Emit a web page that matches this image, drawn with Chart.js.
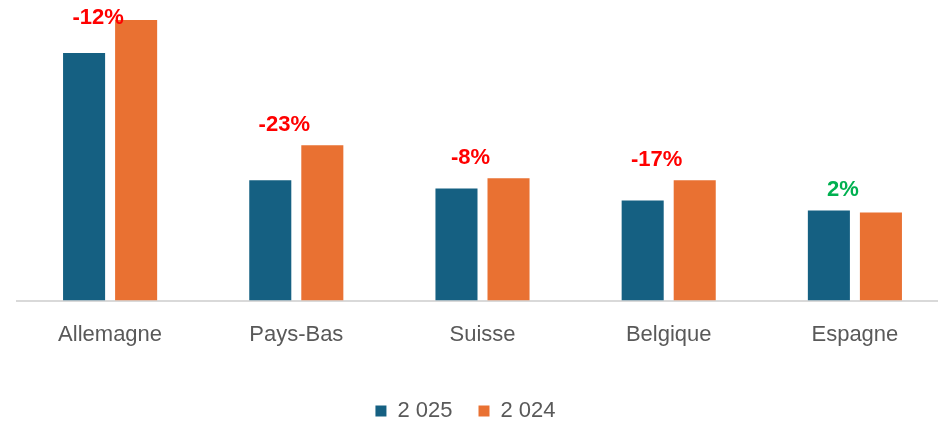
<!DOCTYPE html>
<html>
<head>
<meta charset="utf-8">
<script src="https://cdn.jsdelivr.net/npm/chart.js@4.4.1/dist/chart.umd.min.js"></script>
<style>
  html, body { margin: 0; padding: 0; background: #fff; overflow: hidden; }
  #wrap { position: relative; width: 948px; height: 444px; }
</style>
</head>
<body>
<div id="wrap"><canvas id="chart"></canvas></div>
<script>
// values (same unit for both years)
const countries = ["Allemagne", "Pays-Bas", "Suisse", "Belgique", "Espagne"];
const seriesNames = ["2 025", "2 024"];
const values2025 = [247, 120, 112, 100, 90];
const values2024 = [280, 155, 122, 120, 88];
const changeLabels = ["-12%", "-23%", "-8%", "-17%", "2%"];

const FONT = '"Liberation Sans", Arial, sans-serif';
const GREY = "#595959";

/* percentage above each group */
const changePlugin = {
  id: "changeLabels",
  afterDatasetsDraw(chart) {
    const ctx = chart.ctx;
    const x = chart.scales.x, y = chart.scales.y;
    ctx.save();
    ctx.font = "bold 22px " + FONT;
    ctx.textAlign = "center";
    ctx.textBaseline = "middle";
    changeLabels.forEach((txt, i) => {
      const top = y.getPixelForValue(Math.max(values2025[i], values2024[i]));
      ctx.fillStyle = txt.startsWith("-") ? "#FF0000" : "#00B050";
      ctx.fillText(txt, x.getPixelForValue(i) - 12, Math.max(top - 20, 18));
    });
    ctx.restore();
  }
};

/* legend sits a bit left of the plot centre */
const legendShift = {
  id: "legendShift",
  afterLayout(chart) {
    chart.legend.left -= 17;
    chart.legend.right -= 17;
  }
};

new Chart(document.getElementById("chart"), {
  type: "bar",
  data: {
    labels: countries,
    datasets: [
      {
        label: seriesNames[0],
        data: values2025,
        backgroundColor: "#156082",
        barPercentage: 0.808,
        categoryPercentage: 0.559
      },
      {
        label: seriesNames[1],
        data: values2024,
        backgroundColor: "#E97132",
        barPercentage: 0.808,
        categoryPercentage: 0.559
      }
    ]
  },
  options: {
    responsive: true,
    maintainAspectRatio: false,
    animation: false,
    layout: { padding: { left: 17, top: 0, right: 0, bottom: 12 } },
    scales: {
      x: {
        grid: { display: false, drawTicks: false },
        border: { display: true, color: "#d9d9d9", width: 2 },
        ticks: { color: GREY, font: { size: 22, family: FONT }, padding: 21 },
        afterFit(scale) { scale.height += 5; }
      },
      y: { display: false, min: 0, max: 300 }
    },
    plugins: {
      legend: {
        position: "bottom",
        labels: {
          boxWidth: 11,
          boxHeight: 11,
          color: GREY,
          font: { size: 22, family: FONT },
          padding: 26
        }
      },
      tooltip: { enabled: false }
    }
  },
  plugins: [changePlugin, legendShift]
});
</script>
</body>
</html>
